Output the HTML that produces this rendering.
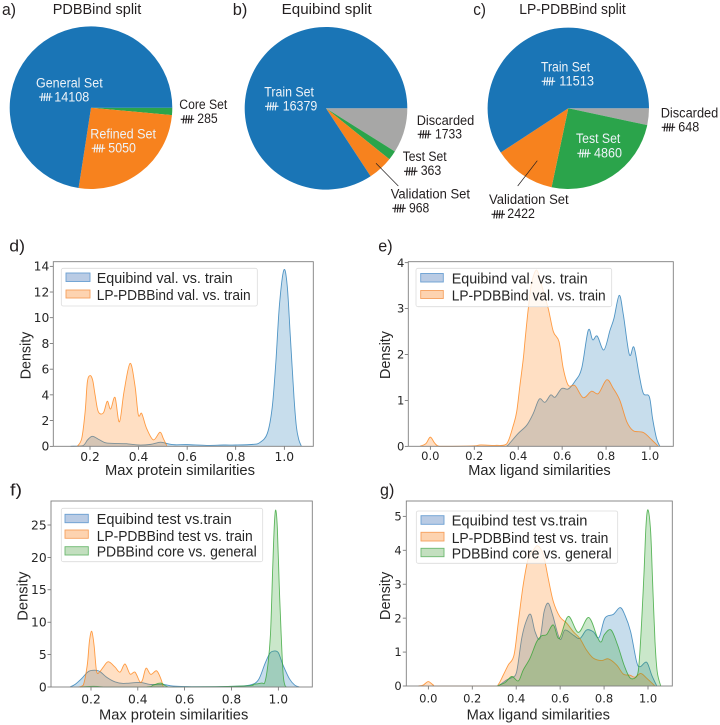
<!DOCTYPE html>
<html>
<head>
<meta charset="utf-8">
<title>Dataset splits and similarity densities</title>
<style>
html,body{margin:0;padding:0;background:#fff;}
svg{display:block;}
text{font-family:"Liberation Sans",sans-serif;fill:#231f20;}
.pt{font-size:13.5px;}
.wt{font-size:13.5px;fill:#eef3f8;}
.ttl{font-size:14.5px;}
.let{font-size:17px;}
.ax{font-family:"Liberation Sans",sans-serif;font-size:14.5px;fill:#262626;}
.leg{font-family:"Liberation Sans",sans-serif;font-size:14.5px;fill:#262626;}
.tick{font-family:"DejaVu Sans",sans-serif;fill:#262626;}
.frame{fill:none;stroke:#7f7f7f;stroke-width:.9;}
.lbox{fill:#fff;fill-opacity:.8;stroke:#dcdcdc;stroke-width:.8;}
.sb{fill:#b9cbe4;stroke:#6a9fd2;stroke-width:.9;}
.so{fill:#fdd3b0;stroke:#f6a05e;stroke-width:.9;}
.sg{fill:#c3dfbf;stroke:#6cb86f;stroke-width:.9;}
</style>
</head>
<body>
<svg id="fig" xmlns="http://www.w3.org/2000/svg" width="720" height="725" viewBox="0 0 720 725">
  <defs>
    <g id="tally-b" fill="none" stroke="#231f20" stroke-width="1.1">
      <path d="M0 .3H13.5M3.4 -3.8L2.4 4.4M6 -3.8L5 4.4M8.6 -3.8L7.6 4.4M11.2 -3.8L10.2 4.4"/>
    </g>
    <g id="tally-w" fill="none" stroke="#eef3f8" stroke-width="1.1">
      <path d="M0 .3H13.5M3.4 -3.8L2.4 4.4M6 -3.8L5 4.4M8.6 -3.8L7.6 4.4M11.2 -3.8L10.2 4.4"/>
    </g>
  </defs>

  <!-- PIES -->
  <g id="pie-a"></g>
  <g id="pie-b"></g>
  <g id="pie-c"></g>

  <text class="let" x="2" y="15" textLength="14" lengthAdjust="spacingAndGlyphs">a)</text>
  <text class="ttl" x="52.7" y="14" textLength="88.6" lengthAdjust="spacingAndGlyphs">PDBBind split</text>
  <text class="wt" x="36" y="87.7" textLength="66.7" lengthAdjust="spacingAndGlyphs">General Set</text>
  <use href="#tally-w" x="39" y="96.7"/>
  <text class="wt" x="54.3" y="101.7" textLength="35" lengthAdjust="spacingAndGlyphs">14108</text>
  <text class="wt" x="90.3" y="138.3" textLength="65.7" lengthAdjust="spacingAndGlyphs">Refined Set</text>
  <use href="#tally-w" x="91.7" y="148"/>
  <text class="wt" x="108.3" y="152.7" textLength="27.7" lengthAdjust="spacingAndGlyphs">5050</text>
  <text class="pt" x="179.3" y="109" textLength="48" lengthAdjust="spacingAndGlyphs">Core Set</text>
  <use href="#tally-b" x="180.7" y="119"/>
  <text class="pt" x="197.3" y="123" textLength="20.4" lengthAdjust="spacingAndGlyphs">285</text>

  <text class="let" x="232.7" y="15" textLength="14.6" lengthAdjust="spacingAndGlyphs">b)</text>
  <text class="ttl" x="281.7" y="14" textLength="90" lengthAdjust="spacingAndGlyphs">Equibind split</text>
  <text class="wt" x="264.3" y="96.7" textLength="49.7" lengthAdjust="spacingAndGlyphs">Train Set</text>
  <use href="#tally-w" x="265" y="106"/>
  <text class="wt" x="282.7" y="110.7" textLength="34.6" lengthAdjust="spacingAndGlyphs">16379</text>
  <text class="pt" x="416.7" y="125" textLength="57.6" lengthAdjust="spacingAndGlyphs">Discarded</text>
  <use href="#tally-b" x="417.7" y="134"/>
  <text class="pt" x="435" y="138.7" textLength="27" lengthAdjust="spacingAndGlyphs">1733</text>
  <text class="pt" x="402.7" y="161" textLength="44" lengthAdjust="spacingAndGlyphs">Test Set</text>
  <use href="#tally-b" x="404" y="171"/>
  <text class="pt" x="420.7" y="175" textLength="20.6" lengthAdjust="spacingAndGlyphs">363</text>
  <line x1="376" y1="163.3" x2="398.3" y2="186" stroke="#231f20" stroke-width=".7"/>
  <text class="pt" x="390.7" y="198.3" textLength="79.3" lengthAdjust="spacingAndGlyphs">Validation Set</text>
  <use href="#tally-b" x="392.3" y="208"/>
  <text class="pt" x="409" y="212.7" textLength="20.3" lengthAdjust="spacingAndGlyphs">968</text>

  <text class="let" x="473.3" y="15" textLength="12.7" lengthAdjust="spacingAndGlyphs">c)</text>
  <text class="ttl" x="519.3" y="14" textLength="106.4" lengthAdjust="spacingAndGlyphs">LP-PDBBind split</text>
  <text class="wt" x="541" y="71.3" textLength="49" lengthAdjust="spacingAndGlyphs">Train Set</text>
  <use href="#tally-w" x="541.7" y="81"/>
  <text class="wt" x="559.3" y="85.3" textLength="34.7" lengthAdjust="spacingAndGlyphs">11513</text>
  <text class="pt" x="660.7" y="117.7" textLength="57.6" lengthAdjust="spacingAndGlyphs">Discarded</text>
  <use href="#tally-b" x="661.7" y="127"/>
  <text class="pt" x="678.3" y="131.7" textLength="21" lengthAdjust="spacingAndGlyphs">648</text>
  <text class="wt" x="576" y="143" textLength="44.3" lengthAdjust="spacingAndGlyphs">Test Set</text>
  <use href="#tally-w" x="577.3" y="153"/>
  <text class="wt" x="594" y="157.3" textLength="28" lengthAdjust="spacingAndGlyphs">4860</text>
  <line x1="537.3" y1="160.7" x2="517.7" y2="186" stroke="#231f20" stroke-width=".7"/>
  <text class="pt" x="489" y="204" textLength="79.7" lengthAdjust="spacingAndGlyphs">Validation Set</text>
  <use href="#tally-b" x="491.5" y="214"/>
  <text class="pt" x="507.3" y="218" textLength="27.7" lengthAdjust="spacingAndGlyphs">2422</text>

  <!-- PANEL D -->
  <g id="d-marks"></g>
  <rect class="frame" x="53.3" y="261.7" width="260" height="184.6"/>
  <g>
    <rect class="lbox" x="61.3" y="268.3" width="196" height="37.7" rx="2"/>
    <rect class="sb" x="66" y="273" width="24" height="8.5"/>
    <text class="leg" x="96.7" y="283" textLength="136" lengthAdjust="spacingAndGlyphs">Equibind val. vs. train</text>
    <rect class="so" x="66" y="290" width="24" height="8"/>
    <text class="leg" x="96.7" y="300" textLength="154" lengthAdjust="spacingAndGlyphs">LP-PDBBind val. vs. train</text>
  </g>
  <text class="let" x="9.3" y="251.7" textLength="15.7" lengthAdjust="spacingAndGlyphs">d)</text>
  <text class="ax" x="105" y="475" textLength="150" lengthAdjust="spacingAndGlyphs">Max protein similarities</text>
  <text class="ax" transform="translate(30.7,379.3) rotate(-90)" textLength="47.6" lengthAdjust="spacingAndGlyphs">Density</text>

  <!-- PANEL E -->
  <g id="e-marks"></g>
  <rect class="frame" x="408.3" y="261.7" width="265" height="184.6"/>
  <g>
    <rect class="lbox" x="416" y="268.3" width="195.7" height="38.4" rx="2"/>
    <rect class="sb" x="420.7" y="273.5" width="22.6" height="8.5"/>
    <text class="leg" x="451.7" y="283.5" textLength="136" lengthAdjust="spacingAndGlyphs">Equibind val. vs. train</text>
    <rect class="so" x="420.7" y="290.5" width="22.6" height="8"/>
    <text class="leg" x="451.7" y="300.5" textLength="154" lengthAdjust="spacingAndGlyphs">LP-PDBBind val. vs. train</text>
  </g>
  <text class="let" x="378.3" y="251.7" textLength="14.3" lengthAdjust="spacingAndGlyphs">e)</text>
  <text class="ax" x="468.3" y="475" textLength="142.4" lengthAdjust="spacingAndGlyphs">Max ligand similarities</text>
  <text class="ax" transform="translate(390,379) rotate(-90)" textLength="48" lengthAdjust="spacingAndGlyphs">Density</text>

  <!-- PANEL F -->
  <g id="f-marks"></g>
  <rect class="frame" x="51" y="501" width="261.3" height="186"/>
  <g>
    <rect class="lbox" x="61.3" y="508.3" width="201.4" height="53.4" rx="2"/>
    <rect class="sb" x="65" y="514.3" width="23.3" height="8.4"/>
    <text class="leg" x="96.7" y="524" textLength="135" lengthAdjust="spacingAndGlyphs">Equibind test vs.train</text>
    <rect class="so" x="65" y="530" width="23.3" height="8.3"/>
    <text class="leg" x="96.7" y="541" textLength="156" lengthAdjust="spacingAndGlyphs">LP-PDBBind test vs. train</text>
    <rect class="sg" x="65" y="546.7" width="23.3" height="8.3"/>
    <text class="leg" x="96.7" y="556.5" textLength="160" lengthAdjust="spacingAndGlyphs">PDBBind core vs. general</text>
  </g>
  <text class="let" x="10" y="495.7" textLength="12" lengthAdjust="spacingAndGlyphs">f)</text>
  <text class="ax" x="99" y="719.3" textLength="149.3" lengthAdjust="spacingAndGlyphs">Max protein similarities</text>
  <text class="ax" transform="translate(27.7,620.7) rotate(-90)" textLength="49" lengthAdjust="spacingAndGlyphs">Density</text>

  <!-- PANEL G -->
  <g id="g-marks"></g>
  <rect class="frame" x="406.3" y="501" width="266" height="185"/>
  <g>
    <rect class="lbox" x="416.3" y="511" width="201.4" height="52.3" rx="2"/>
    <rect class="sb" x="421" y="515.7" width="23" height="8.6"/>
    <text class="leg" x="451.7" y="525.5" textLength="135.7" lengthAdjust="spacingAndGlyphs">Equibind test vs.train</text>
    <rect class="so" x="421" y="532.3" width="23" height="8.7"/>
    <text class="leg" x="451.7" y="543" textLength="156.7" lengthAdjust="spacingAndGlyphs">LP-PDBBind test vs. train</text>
    <rect class="sg" x="421" y="548.3" width="23" height="8.4"/>
    <text class="leg" x="451.7" y="558.5" textLength="160" lengthAdjust="spacingAndGlyphs">PDBBind core vs. general</text>
  </g>
  <text class="let" x="380" y="495.7" textLength="14.3" lengthAdjust="spacingAndGlyphs">g)</text>
  <text class="ax" x="466.7" y="719.3" textLength="143.3" lengthAdjust="spacingAndGlyphs">Max ligand similarities</text>
  <text class="ax" transform="translate(390,620) rotate(-90)" textLength="48.3" lengthAdjust="spacingAndGlyphs">Density</text>
</svg>

<script>
/* ---------- pie data ---------- */
const pieASlices = ["core-set", "refined-set", "general-set"];
const pieAValues = [285, 5050, 14108];
const pieBSlices = ["discarded", "test-set", "validation-set", "train-set"];
const pieBValues = [1733, 363, 968, 16379];
const pieCSlices = ["discarded", "test-set", "validation-set", "train-set"];
const pieCValues = [648, 4860, 2422, 11513];

/* ---------- panel d ---------- */
const dXTicks = ["0.2", "0.4", "0.6", "0.8", "1.0"];
const dYTicks = ["0", "2", "4", "6", "8", "10", "12", "14"];
const dEquibindX = [0.12,0.17,0.19,0.21,0.24,0.27,0.35,0.40,0.45,0.49,0.52,0.55,0.60,0.68,0.75,0.80,0.87,0.90,0.93,0.95,0.965,0.98,0.998,1.012,1.025,1.04,1.05,1.06,1.07];
const dEquibindY = [0,0.05,0.5,0.78,0.5,0.25,0.2,0.1,0.15,0.32,0.2,0.12,0.13,0.07,0.1,0.1,0.15,0.3,1.0,3.0,6.5,11,13.7,12.5,8.5,3.8,1.5,0.5,0.03];
const dLpX = [0.148,0.166,0.18,0.189,0.2,0.211,0.221,0.234,0.255,0.271,0.285,0.303,0.321,0.34,0.365,0.385,0.399,0.413,0.433,0.461,0.488,0.502,0.516];
const dLpY = [0,0.62,2.7,5.0,5.5,5.15,4.0,2.7,2.6,3.5,2.9,3.8,1.9,4.25,6.45,4.75,2.45,2.55,1.4,0.5,1.1,0.6,0.05];

/* ---------- panel e ---------- */
const eXTicks = ["0.0", "0.2", "0.4", "0.6", "0.8", "1.0"];
const eYTicks = ["0", "1", "2", "3", "4"];
const eEquibindX = [0.347,0.355,0.40,0.439,0.469,0.496,0.522,0.548,0.568,0.598,0.628,0.659,0.689,0.719,0.739,0.76,0.79,0.818,0.836,0.86,0.879,0.906,0.927,0.951,0.97,0.997,1.012,1.03,1.045];
const eEquibindY = [0,0.03,0.28,0.46,0.72,1.03,0.96,1.12,1.07,1.26,1.25,1.42,1.7,2.53,2.32,2.4,2.1,2.53,2.79,3.29,2.86,2.0,2.16,1.55,1.15,1.08,0.6,0.17,0];
const eLpX = [-0.047,-0.02,0,0.02,0.04,0.1,0.2,0.23,0.3,0.347,0.378,0.393,0.408,0.423,0.432,0.446,0.461,0.484,0.507,0.537,0.56,0.586,0.605,0.628,0.659,0.696,0.734,0.765,0.803,0.833,0.863,0.894,0.924,0.97,1.008,1.038];
const eLpY = [0,0.06,0.2,0.07,0,0,0.01,0.03,0.02,0.05,0.46,0.75,1.33,1.9,2.35,3.0,3.55,3.84,3.5,3.0,2.5,2.28,1.7,1.33,1.32,1.06,1.2,1.15,1.45,1.26,1.0,0.54,0.34,0.3,0.14,0];

/* ---------- panel f ---------- */
const fXTicks = ["0.2", "0.4", "0.6", "0.8", "1.0"];
const fYTicks = ["0", "5", "10", "15", "20", "25"];
const fEquibindX = [0.11,0.132,0.16,0.189,0.217,0.238,0.267,0.302,0.338,0.409,0.452,0.509,0.552,0.665,0.808,0.879,0.915,0.943,0.964,0.981,1.0,1.02,1.047,1.07,1.09];
const fEquibindY = [0,0.4,1.3,2.4,2.6,2.4,1.5,0.8,0.55,0.7,0.4,0.4,0.15,0.05,0.1,0.3,1.1,3.6,5.2,5.55,5.3,3.4,1.3,0.3,0];
const fLpX = [0.146,0.167,0.184,0.193,0.203,0.213,0.224,0.238,0.253,0.274,0.302,0.324,0.345,0.367,0.388,0.409,0.42,0.435,0.455,0.48,0.498,0.509];
const fLpY = [0,0.3,3.4,7,8.6,6.5,2.4,2.4,3.1,3.9,3.1,2.3,3.55,2,2.3,0.8,1.1,2.9,1.95,2.5,1.3,0];
const fCoreX = [0.153,0.21,0.238,0.28,0.438,0.466,0.498,0.523,0.552,0.737,0.879,0.893,0.929,0.943,0.957,0.967,0.976,0.983,0.989,0.996,1.004,1.013,1.021,1.029,1.036];
const fCoreY = [0,0.1,0.05,0,0.02,0.3,0.6,0.1,0,0.05,0.2,0.4,0.6,0.8,3.9,8.5,18.3,25,27.3,24.5,15.7,7.5,1.85,0.2,0];

/* ---------- panel g ---------- */
const gXTicks = ["0.0", "0.2", "0.4", "0.6", "0.8", "1.0"];
const gYTicks = ["0", "1", "2", "3", "4", "5"];
const gEquibindX = [0.319,0.357,0.38,0.402,0.425,0.445,0.466,0.486,0.508,0.527,0.546,0.566,0.599,0.622,0.66,0.69,0.72,0.751,0.777,0.804,0.842,0.873,0.895,0.921,0.948,0.964,0.994,1.017,1.04];
const gEquibindY = [0,0.18,0.25,0.42,1.4,1.9,2.11,1.6,1.4,2.19,2.44,2.09,1.38,1.65,1.5,1.4,1.65,1.6,1.43,2.0,2.11,2.31,2.09,1.6,0.72,0.57,0.7,0.32,0];
const gLpX = [-0.046,-0.023,0,0.023,0.046,0.296,0.319,0.341,0.364,0.39,0.41,0.432,0.455,0.478,0.498,0.524,0.546,0.569,0.599,0.63,0.66,0.69,0.72,0.751,0.789,0.819,0.857,0.888,0.918,0.941,0.967,0.994,1.032];
const gLpY = [0,0.03,0.13,0.03,0,0,0.05,0.32,0.62,0.91,1.9,2.98,3.76,4.0,4.13,3.86,3.17,2.49,2.04,1.85,1.6,1.4,1.06,0.82,0.75,0.8,0.62,0.35,0.32,0.26,0.37,0.23,0];
const gCoreX = [0.311,0.349,0.38,0.41,0.432,0.463,0.493,0.516,0.539,0.569,0.596,0.637,0.683,0.73,0.77,0.787,0.802,0.832,0.862,0.892,0.92,0.951,0.961,0.971,0.982,0.991,1.0,1.012,1.021,1.032,1.042,1.058];
const gCoreY = [0,0.1,0.28,0.15,0.47,0.82,1.3,1.48,1.52,1.8,1.4,2.05,1.58,2.02,1.43,1.3,1.52,1.65,1.2,0.6,0.23,0.32,0.82,1.9,3.37,4.74,5.19,4.55,3.07,1.3,0.42,0];

/* ---------- colours ---------- */
const NS = "http://www.w3.org/2000/svg";
const pieColors = {
  "core-set": "#2ba44b", "refined-set": "#f7821e", "general-set": "#1a75b6",
  "discarded": "#a7a7a6", "test-set": "#2ba44b", "validation-set": "#f7821e", "train-set": "#1a75b6"
};
const BLUE = "#1f77b4", ORANGE = "#ff7f0e", GREEN = "#2ca02c";

/* ---------- scales ---------- */
function linear(v0, p0, v1, p1) {
  return function (v) { return p0 + (v - v0) * (p1 - p0) / (v1 - v0); };
}
const dX = linear(0.2, 90, 1.0, 284.3);
const dY = linear(0, 446.3, 14, 266.3);
const eX = linear(0, 430.3, 1.0, 650);
const eY = linear(0, 446.3, 4, 262.7);
const fX = linear(0.2, 91, 1.0, 278.3);
const fY = linear(0, 687, 25, 525);
const gX = linear(0, 428.3, 1.0, 648);
const gY = linear(0, 686, 5, 516.3);

/* ---------- pies ---------- */
function drawPie(groupId, names, values, cx, cy, r) {
  const g = document.getElementById(groupId);
  const total = values.reduce(function (a, b) { return a + b; }, 0);
  let angle = 0;
  names.forEach(function (name, i) {
    const next = angle + values[i] / total * 2 * Math.PI;
    const x0 = cx + r * Math.cos(angle), y0 = cy + r * Math.sin(angle);
    const x1 = cx + r * Math.cos(next), y1 = cy + r * Math.sin(next);
    const large = next - angle > Math.PI ? 1 : 0;
    const p = document.createElementNS(NS, "path");
    p.setAttribute("d", "M" + cx + " " + cy + "L" + x0 + " " + y0 + "A" + r + " " + r + " 0 " + large + " 1 " + x1 + " " + y1 + "Z");
    p.setAttribute("fill", pieColors[name]);
    
    
    g.appendChild(p);
    angle = next;
  });
}
drawPie("pie-a", pieASlices, pieAValues, 91, 107.7, 81.3);
drawPie("pie-b", pieBSlices, pieBValues, 326, 108.3, 81.3);
drawPie("pie-c", pieCSlices, pieCValues, 568.3, 108.3, 80.7);

/* ---------- density curves ---------- */
function curvePath(xs, ys, sx, sy) {
  const pts = xs.map(function (x, i) { return [sx(x), sy(ys[i])]; });
  const base = sy(0);
  let d = "M" + pts[0][0].toFixed(2) + " " + pts[0][1].toFixed(2);
  for (let i = 0; i < pts.length - 1; i++) {
    const p0 = pts[Math.max(0, i - 1)], p1 = pts[i], p2 = pts[i + 1], p3 = pts[Math.min(pts.length - 1, i + 2)];
    const c1x = p1[0] + (p2[0] - p0[0]) / 6;
    const c1y = Math.min(base, p1[1] + (p2[1] - p0[1]) / 6);
    const c2x = p2[0] - (p3[0] - p1[0]) / 6;
    const c2y = Math.min(base, p2[1] - (p3[1] - p1[1]) / 6);
    d += "C" + c1x.toFixed(2) + " " + c1y.toFixed(2) + " " + c2x.toFixed(2) + " " + c2y.toFixed(2) + " " + p2[0].toFixed(2) + " " + p2[1].toFixed(2);
  }
  return d;
}
function drawDensity(groupId, seriesName, xs, ys, sx, sy, color) {
  const g = document.getElementById(groupId);
  const line = curvePath(xs, ys, sx, sy);
  const base = sy(0);
  const area = document.createElementNS(NS, "path");
  area.setAttribute("d", line + "L" + sx(xs[xs.length - 1]).toFixed(2) + " " + base + "L" + sx(xs[0]).toFixed(2) + " " + base + "Z");
  area.setAttribute("fill", color);
  area.setAttribute("fill-opacity", "0.25");
  
  
  g.appendChild(area);
  const stroke = document.createElementNS(NS, "path");
  stroke.setAttribute("d", line);
  stroke.setAttribute("fill", "none");
  stroke.setAttribute("stroke", color);
  stroke.setAttribute("stroke-opacity", "0.75");
  stroke.setAttribute("stroke-width", "0.9");
  
  
  g.appendChild(stroke);
}
drawDensity("d-marks", "equibind-val", dEquibindX, dEquibindY, dX, dY, BLUE);
drawDensity("d-marks", "lp-pdbbind-val", dLpX, dLpY, dX, dY, ORANGE);
drawDensity("e-marks", "equibind-val", eEquibindX, eEquibindY, eX, eY, BLUE);
drawDensity("e-marks", "lp-pdbbind-val", eLpX, eLpY, eX, eY, ORANGE);
drawDensity("f-marks", "equibind-test", fEquibindX, fEquibindY, fX, fY, BLUE);
drawDensity("f-marks", "lp-pdbbind-test", fLpX, fLpY, fX, fY, ORANGE);
drawDensity("f-marks", "pdbbind-core", fCoreX, fCoreY, fX, fY, GREEN);
drawDensity("g-marks", "equibind-test", gEquibindX, gEquibindY, gX, gY, BLUE);
drawDensity("g-marks", "lp-pdbbind-test", gLpX, gLpY, gX, gY, ORANGE);
drawDensity("g-marks", "pdbbind-core", gCoreX, gCoreY, gX, gY, GREEN);

/* ---------- axis ticks ---------- */
function drawTicks(panel, xTicks, yTicks, sx, sy, axisBottom, axisLeft, xBase, yRight, size) {
  const g = document.getElementById(panel + "-marks");
  xTicks.forEach(function (label) {
    const x = sx(parseFloat(label));
    const t = document.createElementNS(NS, "line");
    t.setAttribute("x1", x);
    t.setAttribute("x2", x);
    t.setAttribute("y1", axisBottom);
    t.setAttribute("y2", axisBottom + 3.5);
    t.setAttribute("stroke", "#555");
    t.setAttribute("stroke-width", "0.7");
    
    
    g.appendChild(t);
    const l = document.createElementNS(NS, "text");
    l.setAttribute("class", "tick");
    l.setAttribute("x", x);
    l.setAttribute("y", xBase);
    l.setAttribute("text-anchor", "middle");
    l.setAttribute("font-size", size);
    l.textContent = label;
    
    
    g.appendChild(l);
  });
  yTicks.forEach(function (label) {
    const y = sy(parseFloat(label));
    const t = document.createElementNS(NS, "line");
    t.setAttribute("x1", axisLeft - 3.5);
    t.setAttribute("x2", axisLeft);
    t.setAttribute("y1", y);
    t.setAttribute("y2", y);
    t.setAttribute("stroke", "#555");
    t.setAttribute("stroke-width", "0.7");
    
    
    g.appendChild(t);
    const l = document.createElementNS(NS, "text");
    l.setAttribute("class", "tick");
    l.setAttribute("x", yRight);
    l.setAttribute("y", y + size * 0.36);
    l.setAttribute("text-anchor", "end");
    l.setAttribute("font-size", size);
    l.textContent = label;
    
    
    g.appendChild(l);
  });
}
drawTicks("d", dXTicks, dYTicks, dX, dY, 446.3, 53.3, 461, 49.3, 12.3);
drawTicks("e", eXTicks, eYTicks, eX, eY, 446.3, 408.3, 460, 404.3, 11.5);
drawTicks("f", fXTicks, fYTicks, fX, fY, 687, 51, 703.3, 46.7, 12.3);
drawTicks("g", gXTicks, gYTicks, gX, gY, 686, 406.3, 702.7, 401.7, 11.5);
</script>
</body>
</html>
